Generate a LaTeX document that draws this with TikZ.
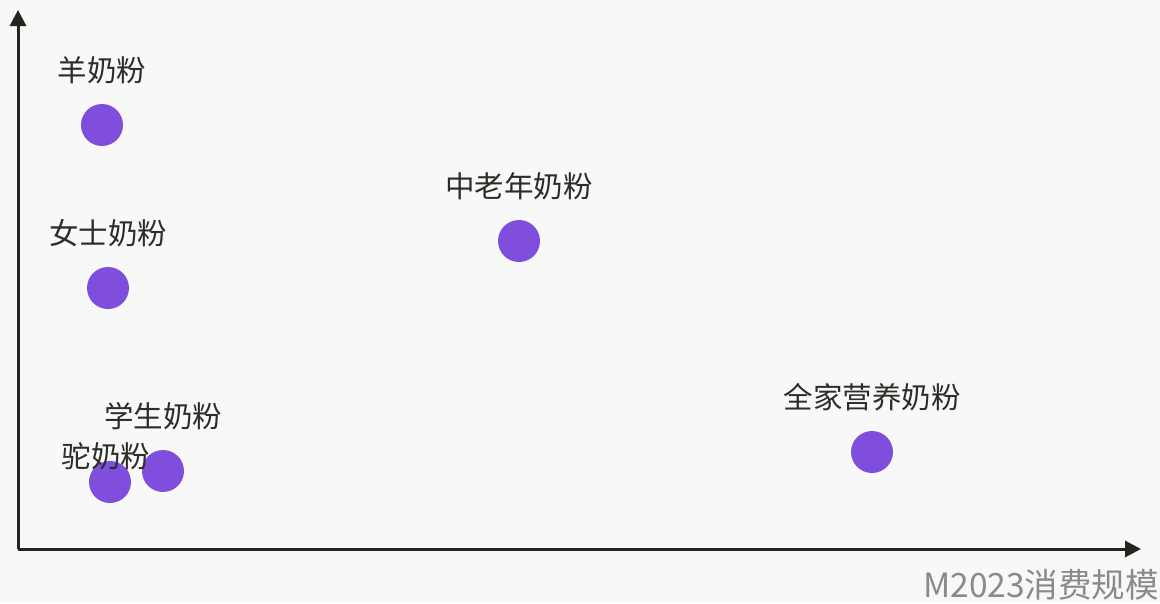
\documentclass[tikz,border=0pt]{standalone}
\usepackage{fontspec}
\usepackage{tikz}
\usetikzlibrary{positioning, arrows.meta}
\usepackage{xcolor}
\newfontfamily\cjk{Noto Sans CJK SC}
\definecolor{bgcol}{HTML}{F8F8F8}
\definecolor{dotcol}{HTML}{804EDC}
\definecolor{axiscol}{HTML}{23261F}
\definecolor{txtcol}{HTML}{2B2D28}
\definecolor{capcol}{HTML}{8A8A8A}

\begin{document}
\begin{tikzpicture}[x=1pt, y=-1pt, every node/.style={font=\cjk\fontsize{29.5pt}{31pt}\selectfont}]
  \tikzstyle{dot} = [circle, fill=dotcol, minimum size=42pt, inner sep=0pt]
  \tikzstyle{label} = [text=txtcol, inner sep=0pt]
  \tikzstyle{axis} = [draw=axiscol, line width=3pt, -{Triangle[length=16pt,width=16pt]}]

  \fill[bgcol] (0,0) rectangle (1160,603);
  \useasboundingbox (0,0) rectangle (1160,603);

  % axes
  \coordinate (origin) at (18,549);
  \coordinate (xend) at (1141,549);
  \coordinate (yend) at (18,10);
  \draw[axis] (origin) -- (yend);
  \draw[axis] (origin) -- (xend);

  % dots
  \node (yang) [dot] at (102,125) {};
  \node (nvshi) [dot] at (108,288) {};
  \node (zhonglao) [dot] at (519,241) {};
  \node (quanjia) [dot] at (872,452) {};
  \node (xuesheng) [dot] at (163,471) {};
  \node (tuo) [dot] at (110,482) {};

  % labels
  \node (yangL) [label] at (102,70) {羊奶粉};
  \node (nvshiL) [label] at (108,233) {女士奶粉};
  \node (zhonglaoL) [label] at (519,186) {中老年奶粉};
  \node (quanjiaL) [label] at (872,397) {全家营养奶粉};
  \node (xueshengL) [label] at (163,416) {学生奶粉};
  \node (tuoL) [label] at (106,456) {驼奶粉};

  \node (caption) [text=capcol, inner sep=0pt, font=\cjk\fontsize{33.5pt}{35pt}\selectfont, anchor=east] at (1159,585) {M2023消费规模};
\end{tikzpicture}
\end{document}
